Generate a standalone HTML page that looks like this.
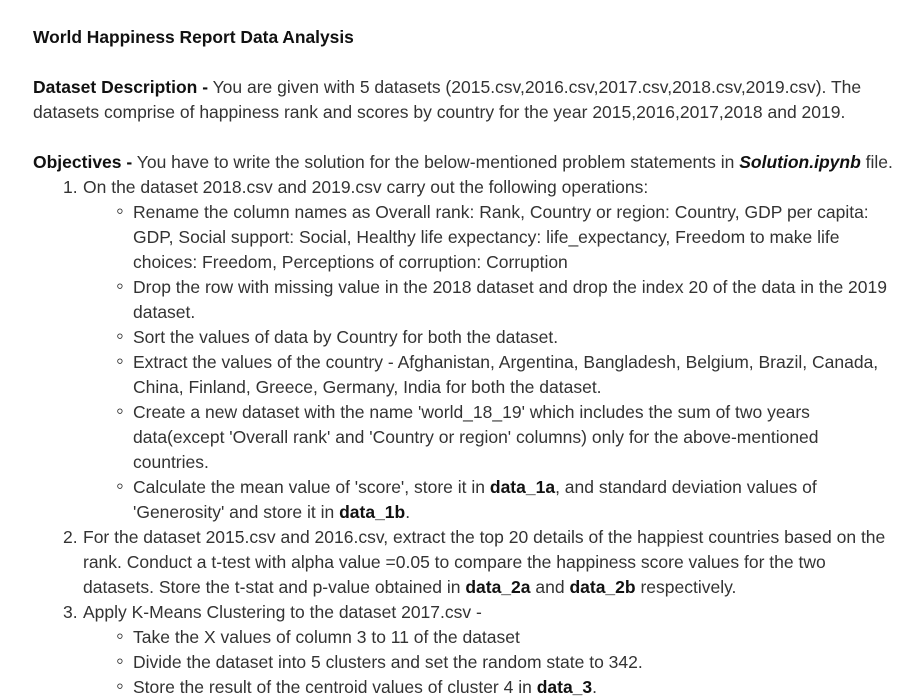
<!DOCTYPE html>
<html><head><meta charset="utf-8"><style>
body{margin:0;width:912px;height:700px;background:#fff;overflow:hidden;position:relative;font-family:"Liberation Sans",Arial,sans-serif;color:#333;}
.l{position:absolute;white-space:nowrap;font-size:17.5px;line-height:25px;}
b{color:#111;}
.t{font-weight:bold;font-size:17.4px;color:#111;}
.n{left:63px}.a{left:83px}.bu{left:116px;font-size:22px;line-height:24px}.b2{left:133px}
</style></head><body>
<div class="l t" style="left:33px;top:25px">World Happiness Report Data Analysis</div>
<div>
<div class="l" style="left:33px;top:75px"><b>Dataset Description -</b> You are given with 5 datasets (2015.csv,2016.csv,2017.csv,2018.csv,2019.csv). The</div>
<div class="l" style="left:33px;top:100px">datasets comprise of happiness rank and scores by country for the year 2015,2016,2017,2018 and 2019.</div>
</div>
<div>
<div class="l" style="left:33px;top:150px"><b>Objectives -</b> You have to write the solution for the below-mentioned problem statements in <b><i>Solution.ipynb</i></b> file.</div>
<div class="l n" style="top:175px">1.</div><div class="l a" style="top:175px">On the dataset 2018.csv and 2019.csv carry out the following operations:</div>
<div class="l bu" style="top:199px">◦</div><div class="l b2" style="top:200px">Rename the column names as Overall rank: Rank, Country or region: Country, GDP per capita:</div>
<div class="l b2" style="top:225px">GDP, Social support: Social, Healthy life expectancy: life_expectancy, Freedom to make life</div>
<div class="l b2" style="top:250px">choices: Freedom, Perceptions of corruption: Corruption</div>
<div class="l bu" style="top:274px">◦</div><div class="l b2" style="top:275px">Drop the row with missing value in the 2018 dataset and drop the index 20 of the data in the 2019</div>
<div class="l b2" style="top:300px">dataset.</div>
<div class="l bu" style="top:324px">◦</div><div class="l b2" style="top:325px">Sort the values of data by Country for both the dataset.</div>
<div class="l bu" style="top:349px">◦</div><div class="l b2" style="top:350px">Extract the values of the country - Afghanistan, Argentina, Bangladesh, Belgium, Brazil, Canada,</div>
<div class="l b2" style="top:375px">China, Finland, Greece, Germany, India for both the dataset.</div>
<div class="l bu" style="top:399px">◦</div><div class="l b2" style="top:400px">Create a new dataset with the name 'world_18_19' which includes the sum of two years</div>
<div class="l b2" style="top:425px">data(except 'Overall rank' and 'Country or region' columns) only for the above-mentioned</div>
<div class="l b2" style="top:450px">countries.</div>
<div class="l bu" style="top:474px">◦</div><div class="l b2" style="top:475px">Calculate the mean value of 'score', store it in <b>data_1a</b>, and standard deviation values of</div>
<div class="l b2" style="top:500px">'Generosity' and store it in <b>data_1b</b>.</div>
<div class="l n" style="top:525px">2.</div><div class="l a" style="top:525px">For the dataset 2015.csv and 2016.csv, extract the top 20 details of the happiest countries based on the</div>
<div class="l a" style="top:550px">rank. Conduct a t-test with alpha value =0.05 to compare the happiness score values for the two</div>
<div class="l a" style="top:575px">datasets. Store the t-stat and p-value obtained in <b>data_2a</b> and <b>data_2b</b> respectively.</div>
<div class="l n" style="top:600px">3.</div><div class="l a" style="top:600px">Apply K-Means Clustering to the dataset 2017.csv -</div>
<div class="l bu" style="top:624px">◦</div><div class="l b2" style="top:625px">Take the X values of column 3 to 11 of the dataset</div>
<div class="l bu" style="top:649px">◦</div><div class="l b2" style="top:650px">Divide the dataset into 5 clusters and set the random state to 342.</div>
<div class="l bu" style="top:674px">◦</div><div class="l b2" style="top:675px">Store the result of the centroid values of cluster 4 in <b>data_3</b>.</div>
</div>
</body></html>
